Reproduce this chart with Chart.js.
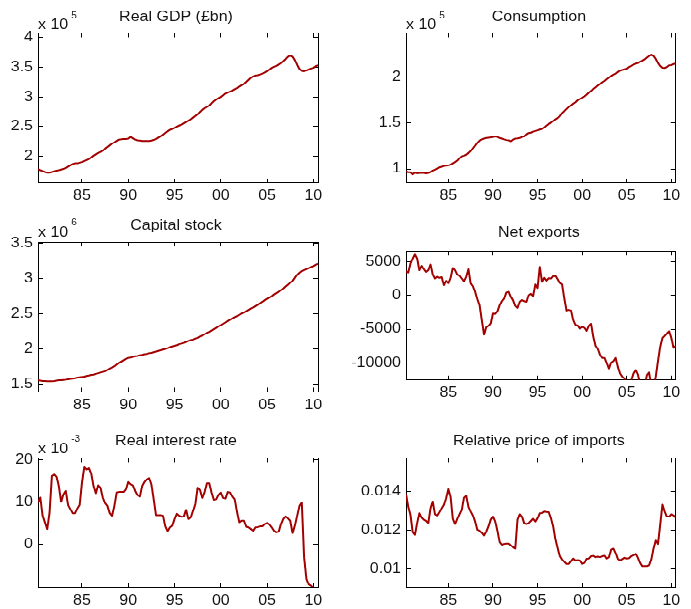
<!DOCTYPE html>
<html>
<head>
<meta charset="utf-8">
<script src="https://cdn.jsdelivr.net/npm/chart.js@4.4.1/dist/chart.umd.min.js"></script>
<style>
html,body{margin:0;padding:0;background:#fff;overflow:hidden;}
body{width:691px;height:609px;}
#wrap{position:relative;width:691px;height:692px;transform:scale(1,0.88);transform-origin:0 0;}
#wrap canvas{position:absolute;left:0;top:0;}
</style>
</head>
<body>
<div id="wrap"></div>
<script>
// quarterly data, 1980Q2 .. 2010Q3
const quarters=[];
for(let i=0;i<122;i++) quarters.push(1980.25+i/4);
const yearTicks=[1985,1990,1995,2000,2005,2010];

const gdp=[178600,176400,175200,173500,172400,172400,173500,174700,175800,176400,
177500,178600,180300,182500,184800,187000,188200,188200,189300,190400,
192100,193800,195500,198300,201100,203400,205600,207300,209600,213000,
215800,218600,221400,223600,225900,228200,228700,229300,229300,229800,
232700,230400,228200,227000,226500,225900,225900,225900,225900,226500,
227600,229300,231500,233800,236600,239400,242200,244500,246200,247900,
250100,251800,253500,255700,258000,260200,262500,265300,268100,270900,
274900,278300,281100,283300,285600,289500,292900,295700,298000,300200,
303000,305900,307500,309200,310900,313200,314900,317700,319900,322200,
325600,328900,332300,334600,336300,336800,338000,339600,341300,343600,
346400,349200,350900,352600,354800,357100,360500,363900,367800,370000,
367800,362200,354300,347500,344100,343600,344700,346400,348100,349200,
352000,353700];

const consumption=[97500,96400,96400,94200,96400,95300,95700,95700,95700,95300,
95700,96700,98200,99300,100400,101800,102500,103300,103600,104000,
104700,106200,107600,109100,111600,113800,114500,115600,117400,119600,
122500,125400,128300,130800,132200,133000,133700,134100,134400,134800,
135500,134800,133700,133000,132200,131500,131200,130100,131900,133000,
133300,133700,134800,135500,137700,139100,139500,140600,141300,142000,
142800,143500,145300,147100,148900,150400,152200,154000,155400,157600,
160900,163000,165200,167400,169200,171000,172500,174600,176100,177500,
179000,180800,183000,184800,187000,188800,190600,192400,194200,195700,
197500,199300,201100,202500,203600,205400,206900,207600,208300,209100,
210900,212000,213400,214500,215200,216700,217800,219200,221000,222800,
224300,222800,219600,215200,212000,210100,209800,210900,212700,213000,
214100,214500];

const capital=[1557000,1552000,1547000,1547000,1543000,1543000,1543000,1547000,1552000,1557000,
1557000,1562000,1566000,1571000,1576000,1581000,1585000,1595000,1600000,1604000,
1609000,1618000,1623000,1633000,1637000,1647000,1656000,1666000,1675000,1685000,
1704000,1723000,1737000,1756000,1780000,1803000,1822000,1841000,1860000,1874000,
1879000,1889000,1898000,1903000,1912000,1917000,1927000,1931000,1941000,1945000,
1955000,1964000,1974000,1983000,1993000,2002000,2012000,2026000,2036000,2045000,
2055000,2069000,2078000,2088000,2102000,2116000,2126000,2135000,2149000,2159000,
2178000,2192000,2211000,2230000,2244000,2263000,2282000,2301000,2320000,2339000,
2358000,2377000,2396000,2415000,2434000,2453000,2467000,2486000,2505000,2519000,
2538000,2557000,2576000,2590000,2609000,2628000,2652000,2671000,2694000,2713000,
2732000,2751000,2775000,2794000,2813000,2836000,2860000,2889000,2912000,2941000,
2969000,3012000,3054000,3083000,3107000,3121000,3135000,3149000,3164000,3178000,
3197000,3211000];

const netExports=[3620,3420,4760,5510,6100,5510,3770,4420,3920,3520,
3770,4610,3130,2530,2780,2630,2730,1540,2180,1840,
2630,4120,3770,3130,2930,2530,2130,2780,3920,1790,
1390,550,-550,-1440,-3670,-5800,-4710,-4510,-4170,-2680,
-2730,-2330,-1440,-840,-450,450,550,-200,-690,-1540,
-1840,-940,-690,-840,-940,50,250,-50,1640,1140,
4270,2030,2630,2230,2580,2530,2880,2930,2430,1890,
1640,-450,-2230,-2130,-2230,-3670,-4360,-4460,-4910,-4660,
-4810,-5260,-4510,-4220,-6150,-7490,-7940,-8780,-9280,-9280,
-10020,-10860,-9970,-9770,-9280,-10610,-11610,-12050,-12350,-12950,
-13440,-12600,-11610,-11110,-11760,-13090,-14090,-13590,-11850,-11460,
-13340,-13440,-12100,-9770,-7640,-6300,-6000,-5650,-5310,-6300,
-7790,-7490];

const realRate=[0.00996,0.01113,0.00684,0.00528,0.00371,0.00762,0.01621,0.0166,0.01606,0.01387,
0.01012,0.01192,0.0127,0.00934,0.0084,0.00746,0.00746,0.00856,0.00934,0.01465,
0.01832,0.01778,0.01809,0.01684,0.01387,0.01215,0.01403,0.01348,0.01113,0.00981,
0.00918,0.00746,0.00684,0.00918,0.01231,0.01246,0.01246,0.01246,0.01309,0.01481,
0.01426,0.01403,0.0127,0.01176,0.01137,0.01387,0.01481,0.01543,0.01574,0.01426,
0.01074,0.00699,0.00699,0.00699,0.00684,0.00434,0.00324,0.0041,0.00449,0.00606,
0.0073,0.00684,0.0066,0.00668,0.00824,0.00606,0.00645,0.00801,0.00957,0.01348,
0.01293,0.01106,0.01246,0.01449,0.01449,0.01231,0.01059,0.01074,0.01176,0.01231,
0.01106,0.0109,0.01246,0.01231,0.01137,0.01074,0.00778,0.00528,0.00567,0.00567,
0.00426,0.0041,0.00371,0.00332,0.0041,0.00418,0.00434,0.00434,0.00488,0.00512,
0.00473,0.0041,0.00332,0.00293,0.00309,0.00488,0.00606,0.00668,0.00621,0.00567,
0.00278,0.0045,0.00684,0.00918,0.0099,-0.003,-0.00816,-0.00941,-0.00972,-0.01019,
-0.0111,-0.0119];

const importPrice=[0.01385,0.0132,0.01278,0.0119,0.01176,0.01236,0.01286,0.01264,0.01253,0.01247,
0.01236,0.01312,0.01346,0.01281,0.01275,0.01292,0.01312,0.01329,0.01363,0.0141,
0.01371,0.01258,0.01231,0.01258,0.01281,0.01303,0.01366,0.01376,0.0132,0.01295,
0.01275,0.01244,0.01202,0.01197,0.01186,0.01173,0.01193,0.01219,0.01253,0.01269,
0.01244,0.01197,0.01139,0.01125,0.01129,0.01131,0.01131,0.01122,0.01112,0.01105,
0.01253,0.01281,0.01269,0.01236,0.01231,0.01236,0.01247,0.01258,0.01244,0.01261,
0.01286,0.01288,0.01295,0.01293,0.01292,0.01261,0.01219,0.01153,0.01108,0.01066,
0.01049,0.01037,0.01027,0.01027,0.01041,0.01054,0.01044,0.01046,0.01044,0.01027,
0.01032,0.01053,0.01054,0.01066,0.01068,0.01061,0.01064,0.01061,0.01066,0.01069,
0.01054,0.01061,0.011,0.01105,0.01083,0.01053,0.01044,0.01051,0.01058,0.01054,
0.01056,0.01066,0.01071,0.01078,0.01058,0.01031,0.01015,0.01015,0.01015,0.0102,
0.01049,0.01105,0.01146,0.01129,0.01227,0.0133,0.01295,0.01269,0.01269,0.01281,
0.01275,0.01264];

const SY=0.88; // vertical squeeze of the whole figure
const W=691, H=692;
const FONT='"Liberation Sans", Arial, Helvetica, sans-serif';
const LINE='#a30000';

// box = [left, top, right, bottom] in page pixels
const panels=[
 {title:'Real GDP (£bn)',vals:gdp,box:[38,33,318,183],min:155000,max:408000,
  yt:[200000,250000,300000,350000,400000],fmt:v=>String(v/1e5),exp:'5',titleY:20.7,expY:29.3},
 {title:'Consumption',vals:consumption,box:[406,33,686,183],min:84800,max:247800,
  yt:[100000,150000,200000],fmt:v=>String(v/1e5),exp:'5',titleY:20.7,expY:29.3},
 {title:'Capital stock',vals:capital,box:[38,242,318,392],min:1390000,max:3520000,
  yt:[1500000,2000000,2500000,3000000,3500000],fmt:v=>String(v/1e6),exp:'6',titleY:229.3,expY:236.7},
 {title:'Net exports',vals:netExports,box:[406,251,686,380],min:-12570,max:6630,
  yt:[-10000,-5000,0,5000],fmt:v=>String(v),exp:null,titleY:236.5},
 {title:'Real interest rate',vals:realRate,box:[38,458,318,587],min:-0.01,max:0.0205,
  yt:[0,0.01,0.02],fmt:v=>String(Math.round(v*1000)),exp:'-3',titleY:445,expY:453},
 {title:'Relative price of imports',vals:importPrice,box:[406,458,686,587],min:0.00908,max:0.0157,
  yt:[0.01,0.012,0.014],fmt:v=>String(+v.toFixed(3)),exp:null,titleY:445}
];

const decor={
 id:'decor',
 afterDraw(chart,args,o){
  const c=chart.ctx,a=chart.chartArea;
  c.save();
  c.fillStyle='#111';
  c.font='16px '+FONT;
  c.textBaseline='alphabetic';
  c.textAlign='center';
  c.fillText(o.title,(a.left+a.right)/2-2,o.titleY/SY);
  if(o.exp){
   c.textAlign='left';
   c.fillText('x 10',a.left,o.expY/SY);
   const w=c.measureText('x 10').width;
   c.font='10px '+FONT;
   c.fillText(o.exp,a.left+w+3,(o.expY-11)/SY);
  }
  c.restore();
 }
};

function axis(pos,min,max,vals,fmt,showLabels,size){
 const horiz=pos==='top'||pos==='bottom';
 return {
  type:'linear',axis:horiz?'x':'y',position:pos,min:min,max:max,
  afterBuildTicks:s=>{s.ticks=vals.map(v=>({value:v}));},
  afterFit:s=>{ if(horiz) s.height=size; else s.width=size; },
  grid:{drawOnChartArea:false,drawTicks:true,tickLength:-5,color:'#000',tickColor:'#000',lineWidth:1,tickWidth:1},
  border:{display:true,color:'#000',width:1},
  ticks:{display:showLabels,callback:fmt,autoSkip:false,maxRotation:0,minRotation:0,
   padding:horiz?10.5:10,color:'#111',font:{family:FONT,size:16}}
 };
}

const wrap=document.getElementById('wrap');
panels.forEach(p=>{
 const cv=document.createElement('canvas');
 cv.width=W; cv.height=H;
 wrap.appendChild(cv);
 const [L,T,R,B]=p.box;
 const yearFmt=v=>String(v%100).padStart(2,'0');
 new Chart(cv,{
  type:'line',
  data:{datasets:[{
   data:quarters.map((q,i)=>({x:q,y:p.vals[i]})),
   borderColor:LINE,borderWidth:2,pointRadius:0,tension:0,fill:false,
   borderJoinStyle:'round',xAxisID:'x',yAxisID:'y'
  }]},
  options:{
   responsive:false,animation:false,devicePixelRatio:1,events:[],
   layout:{padding:{left:0,top:T/SY,right:W-R,bottom:0}},
   plugins:{legend:{display:false},tooltip:{enabled:false},
    decor:{title:p.title,titleY:p.titleY,exp:p.exp,expY:p.expY}},
   scales:{
    x:axis('bottom',1980.25,2010.5,yearTicks,yearFmt,true,H-B/SY),
    x2:axis('top',1980.25,2010.5,yearTicks,yearFmt,false,0),
    y:axis('left',p.min,p.max,p.yt,p.fmt,true,L),
    y2:axis('right',p.min,p.max,p.yt,p.fmt,false,0)
   }
  },
  plugins:[decor]
 });
});
</script>
</body>
</html>
